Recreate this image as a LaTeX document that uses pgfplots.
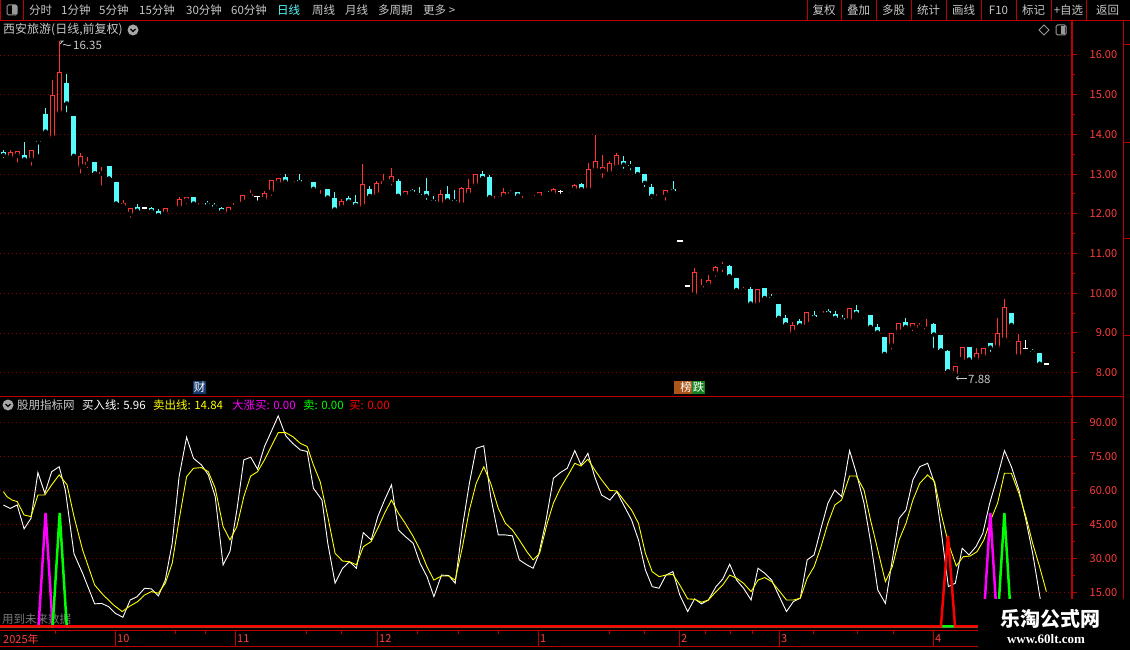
\documentclass[border=0pt]{standalone}
\usepackage{fontspec}
\setmainfont{Noto Sans CJK SC}
\newfontfamily\wmserif{Liberation Serif}
\usepackage{pgfplots}
\usepackage{pgfplotstable}
\pgfplotsset{compat=1.18}

\definecolor{upred}{RGB}{255,50,50}
\definecolor{dncyan}{RGB}{84,252,252}
\definecolor{axred}{RGB}{190,0,0}
\definecolor{gridred}{RGB}{150,0,0}
\definecolor{lblred}{RGB}{255,60,60}
\definecolor{txtgray}{RGB}{200,200,200}
\definecolor{dimgray}{RGB}{120,120,120}
\definecolor{lnyellow}{RGB}{255,255,0}
\definecolor{lnmagenta}{RGB}{255,0,255}
\definecolor{lngreen}{RGB}{0,255,0}
\definecolor{lnred}{RGB}{255,0,0}
\definecolor{caiblue}{RGB}{25,60,110}
\definecolor{bangbrown}{RGB}{170,85,25}
\definecolor{diegreen}{RGB}{20,130,30}

% daily candles, i = bar number
\pgfplotstableread{
i o h l c
1 13.41 13.60 13.38 13.55
2 13.46 13.57 13.24 13.57
4 13.36 13.60 13.16 13.60
7 13.92 15.38 13.86 14.99
8 14.53 16.35 14.47 15.58
11 13.19 13.54 12.96 13.46
12 13.24 13.44 13.10 13.31
14 13.00 13.18 12.66 13.06
17 12.19 12.34 12.19 12.27
18 11.99 12.14 11.85 12.14
23 12.00 12.14 12.00 12.14
24 12.14 12.18 12.07 12.18
25 12.15 12.42 12.13 12.38
26 12.33 12.43 12.20 12.43
28 12.21 12.30 12.11 12.28
32 12.03 12.18 12.03 12.18
33 12.21 12.27 12.18 12.27
34 12.29 12.47 12.26 12.47
35 12.45 12.60 12.43 12.50
37 12.36 12.58 12.36 12.52
38 12.54 12.85 12.40 12.85
39 12.77 12.91 12.69 12.91
41 12.77 12.83 12.66 12.83
43 12.79 12.82 12.72 12.82
45 12.66 12.76 12.45 12.70
48 12.16 12.37 12.16 12.32
51 12.18 13.25 12.16 12.75
53 12.47 12.82 12.47 12.78
54 12.76 13.00 12.68 12.82
55 12.81 13.16 12.66 12.95
57 12.47 12.57 12.39 12.57
62 12.25 12.61 12.19 12.49
65 12.23 12.68 12.23 12.64
66 12.48 12.87 12.48 12.66
67 12.71 12.99 12.63 12.99
70 12.38 12.46 12.30 12.46
71 12.43 12.66 12.34 12.55
72 12.50 12.60 12.40 12.56
74 12.40 12.46 12.32 12.46
75 12.45 12.49 12.34 12.48
76 12.45 12.56 12.34 12.56
78 12.50 12.64 12.50 12.62
80 12.51 12.56 12.51 12.56
81 12.60 12.76 12.55 12.72
83 12.61 13.27 12.57 13.12
84 13.10 13.98 12.99 13.34
85 13.08 13.48 12.85 13.17
86 13.02 13.32 12.96 13.28
87 13.18 13.54 13.11 13.48
93 12.46 12.51 12.39 12.51
94 12.47 12.61 12.28 12.61
98 9.96 10.63 9.96 10.53
99 10.12 10.37 10.00 10.18
100 10.21 10.45 10.16 10.33
101 10.50 10.68 10.36 10.66
102 10.65 10.78 10.48 10.69
105 10.05 10.16 10.05 10.11
107 9.71 10.10 9.71 10.10
112 9.01 9.27 9.01 9.19
114 9.21 9.53 9.21 9.53
116 9.49 9.54 9.41 9.54
120 9.31 9.62 9.31 9.62
122 9.44 9.47 9.31 9.47
126 8.68 8.99 8.53 8.99
127 9.03 9.24 8.91 9.24
129 9.13 9.24 8.99 9.24
130 9.13 9.24 9.03 9.19
131 9.08 9.35 9.08 9.13
135 7.97 8.16 7.88 8.16
136 8.33 8.64 8.26 8.64
138 8.33 8.62 8.33 8.49
139 8.41 8.62 8.35 8.62
141 8.63 9.37 8.56 9.00
142 8.83 9.85 8.72 9.65
144 8.41 8.97 8.41 8.80
}\upK

\pgfplotstableread{
i o h l c
0 13.56 13.60 13.35 13.48
3 13.47 13.80 13.35 13.37
5 13.83 13.85 13.44 13.80
6 14.52 14.66 13.99 14.07
9 15.30 15.53 14.50 14.78
10 14.47 14.47 13.37 13.46
13 13.31 13.31 13.00 13.02
15 13.21 13.21 12.87 12.89
16 12.81 12.81 12.21 12.26
19 12.17 12.24 12.03 12.08
21 12.15 12.18 12.03 12.07
22 12.06 12.12 11.96 11.97
27 12.43 12.43 12.22 12.26
29 12.28 12.31 12.20 12.23
30 12.23 12.26 12.07 12.18
31 12.15 12.17 12.07 12.07
40 12.92 13.00 12.76 12.81
42 12.85 12.99 12.79 12.80
44 12.81 12.81 12.56 12.63
46 12.62 12.62 12.39 12.41
47 12.39 12.54 12.02 12.11
49 12.40 12.45 12.28 12.31
50 12.30 12.48 12.16 12.22
52 12.62 12.70 12.34 12.45
56 12.82 12.87 12.45 12.45
58 12.60 12.62 12.45 12.55
59 12.50 12.68 12.40 12.47
60 12.57 12.89 12.30 12.45
61 12.34 12.45 12.29 12.31
63 12.50 12.70 12.31 12.34
64 12.34 12.60 12.22 12.31
68 13.00 13.08 12.80 12.90
69 12.92 12.97 12.39 12.42
73 12.56 12.56 12.42 12.46
77 12.58 12.58 12.45 12.55
82 12.75 12.78 12.60 12.62
88 13.33 13.45 13.08 13.24
89 13.23 13.32 13.05 13.20
90 13.17 13.17 12.97 13.00
91 13.00 13.00 12.62 12.78
92 12.67 12.75 12.33 12.45
95 12.62 12.82 12.55 12.57
103 10.69 10.71 10.41 10.43
104 10.38 10.38 10.06 10.08
106 10.11 10.16 9.66 9.74
108 10.13 10.13 9.85 9.88
109 9.91 9.98 9.81 9.88
110 9.73 9.73 9.31 9.38
111 9.38 9.45 9.21 9.21
113 9.30 9.35 9.15 9.19
115 9.44 9.54 9.33 9.39
117 9.55 9.59 9.45 9.49
118 9.48 9.54 9.34 9.38
119 9.38 9.45 9.33 9.33
121 9.58 9.70 9.45 9.49
123 9.44 9.44 9.12 9.15
124 9.14 9.22 9.01 9.01
125 8.89 8.89 8.41 8.47
128 9.27 9.37 9.06 9.15
132 9.22 9.26 8.57 8.96
133 8.94 8.94 8.51 8.56
134 8.54 8.56 8.03 8.03
137 8.64 8.64 8.26 8.33
140 8.75 8.75 8.47 8.63
143 9.50 9.50 9.10 9.20
146 8.55 8.60 8.45 8.52
147 8.50 8.50 8.22 8.22
}\dnK

\pgfplotstableread{
i o h l c
20 12.14 12.14 12.06 12.14
36 12.44 12.45 12.28 12.44
79 12.56 12.60 12.45 12.56
96 11.31 11.31 11.31 11.31
97 10.18 10.18 10.18 10.18
145 8.61 8.82 8.56 8.61
148 8.21 8.21 8.21 8.21
}\flatK

% indicator lines, px = horizontal pixel of the point
\pgfplotstableread{
px v
3.4 53.5
10.3 52
17.2 53.5
24.1 43
31.0 47.6
37.9 67.8
44.8 58.7
51.7 68.2
59.2 70.4
65.4 60
74.0 32
82.6 23.4
94.7 9.9
101.6 10.1
108.5 8.7
115.4 5.7
122.9 4
130.2 11.6
137.1 13.1
144.6 16.8
151.5 16.5
158.4 13.4
165.3 20.4
172.2 36.6
179.1 66
186.6 83.4
193.5 74.1
201.4 71.2
208.3 66.8
215.2 57.2
223.1 27.1
230.0 33
236.9 51.3
243.8 73.4
250.7 74.6
257.6 69.3
264.5 79.3
272.0 86.6
278.2 92.8
285.8 84
292.7 80.7
300.3 77.8
307.2 77.1
313.4 60.9
322.0 55.7
327.8 36.6
335.1 19
342.6 25.6
349.5 28.5
356.4 25.6
363.3 41.3
371.2 38.1
377.8 48.4
384.6 55.7
391.5 62.4
398.4 42.5
405.3 39.6
413.2 36.6
420.1 27.8
427.0 21.9
433.9 13.1
441.5 22.6
448.7 22.4
455.2 19
462.5 44
469.4 63.1
476.2 78.5
483.8 79.6
490.7 57.2
498.3 40.3
505.5 40.3
512.4 39.9
519.3 29.3
526.9 27.1
533.1 25.6
538.6 31.5
545.5 45.4
553.4 65.3
560.3 67.8
567.2 69.7
574.8 77.5
581.0 71.2
587.9 76.3
594.7 66
601.6 57.9
609.9 55.7
616.8 59.4
623.7 53.5
631.6 46.9
638.5 38.1
645.4 24.9
652.2 17.5
659.1 16.8
666.0 22.6
672.9 24.1
679.8 13.8
687.7 6.5
694.6 12.1
701.5 9.9
708.4 11.6
716.0 17.5
722.8 20.9
729.7 27.4
736.6 20.4
743.5 16.8
751.1 11.6
758.0 25.6
764.8 23.4
771.7 20.4
778.6 13.8
786.5 6.5
793.4 10.9
800.3 12.4
807.2 29.3
814.1 31.5
821.0 43.2
827.9 54.3
834.8 60.1
841.6 57.2
849.6 77.5
856.4 67.5
864.0 54.3
870.9 36.6
877.8 16
885.4 10.1
892.3 29.3
899.1 47.6
906.0 51.3
912.9 64.6
919.8 70.4
927.7 71.9
934.6 63.1
941.5 41
948.4 17.5
955.3 19
962.2 34.4
969.0 31.5
975.9 35.1
982.8 41
989.7 54.3
996.6 64.6
1004.5 77.5
1011.4 70.4
1019.0 60.1
1025.9 46.9
1032.7 32.2
1040.3 11.9
}\buyL

\pgfplotstableread{
px v
3.4 59.4
6.9 57.2
12.1 55.7
17.2 55
24.1 49.1
31.0 48.4
37.9 57.9
44.8 57.9
51.7 62.4
59.2 66.8
67.1 62.4
74.0 48.4
82.6 33.7
94.7 18.2
103.3 13.8
113.6 9.4
122.2 6.5
129.1 8.7
137.7 10.9
144.6 13.8
151.5 15.3
158.4 14.6
165.3 19
172.2 27.8
179.1 46.9
186.6 66
193.5 69.7
201.4 70
208.3 68.2
215.2 60.9
223.1 44
230.0 38.1
236.9 44
243.8 57.2
250.7 66.3
257.6 68.2
264.5 73.4
272.0 80
278.2 85.4
285.8 85.4
292.7 83.7
300.3 80.7
307.2 79.3
313.4 71.2
320.2 63.8
327.8 48.4
335.1 32.2
342.6 28.8
349.5 28.5
356.4 27.1
363.3 35.1
371.2 37.4
377.8 43.2
384.6 49.9
391.5 55.7
398.4 49.9
405.3 45.4
413.2 39.6
420.1 33.7
427.0 26.3
433.9 20.4
441.5 22.2
448.7 22.2
455.2 20.4
462.5 35.1
469.4 51.3
476.2 63.1
483.8 70.4
490.7 63.1
498.3 52
505.5 45.4
512.4 42.5
519.3 38.1
526.9 32.9
533.1 29.3
539.6 32.2
547.2 45.4
553.4 54.3
560.3 60.9
567.2 66
574.8 71.9
581.0 70.7
587.9 73.7
594.7 69
601.6 64.6
609.9 59.9
616.8 59.7
623.7 55.7
631.6 51.3
638.5 45.4
645.4 32.2
652.2 24.1
659.1 21.9
666.0 22.6
672.9 22.9
679.8 18.2
687.7 12.1
694.6 11.9
701.5 10.6
708.4 11.6
716.0 15.3
722.8 18.2
729.7 22.6
736.6 21.2
743.5 19
751.1 15.3
758.0 20.4
764.8 21.5
771.7 19.7
778.6 16
786.5 11.6
793.4 11.6
800.3 12.4
807.2 21.2
814.1 26.3
821.0 35.1
827.9 45.4
834.8 53.5
841.6 55.7
849.6 66.3
856.4 66.3
864.0 60.1
870.9 46.2
877.8 33.7
885.4 19.7
892.3 26.3
899.1 38.1
906.0 45.4
912.9 55.7
919.8 63.1
927.7 66.8
934.6 63.8
941.5 49.1
948.4 36.6
956.3 26.6
963.2 30.7
970.1 31
977.0 32.9
983.9 38.1
990.7 46.9
997.6 54.3
1004.5 67.5
1011.4 67.5
1019.0 58.6
1025.9 48.4
1032.7 36.6
1039.6 26.3
1046.5 15.3
}\sellL

\pgfplotstableread{
i v
-0.47 0
5 0
6 50
7 0
139 0
140 50
141 0
148 0
}\bigbuyS

\pgfplotstableread{
i v
-0.47 0
7 0
8 50
9 0
141 0
142 50
143 0
148 0
}\sellS

\pgfplotstableread{
i v
-0.47 0
133 0
134 40
135 0
148 0
}\buyS

\pgfplotsset{
  panel/.style={
    scale only axis, width=1072pt, xmin=-0.468, xmax=151.59,
    axis x line=none, axis y line*=right,
    axis line style={draw=axred, line width=1pt},
    ymajorgrids, grid style={draw=gridred, line width=0.8pt, dash pattern=on 1pt off 3pt},
    tick align=outside, major tick length=5pt, minor tick length=3pt,
    every tick/.style={draw=axred, line width=1pt},
    yticklabel style={font=\fontsize{11}{12}\selectfont, text=lblred,
      anchor=west, text width=40pt, align=right, inner sep=0pt},
    clip=true,
    /pgf/number format/.cd, fixed, fixed zerofill, precision=2, assume math mode=true},
  candle/.style 2 args={only marks, mark=none,
    error bars/.cd, y dir=plus, y explicit, error mark=none,
    error bar style={draw=#1, line width=#2, solid}},
}

\begin{document}
\begin{tikzpicture}[x=1pt, y=-1pt]
\useasboundingbox (0,0) rectangle (1130,650);
\fill[black] (0,0) rectangle (1130,650);

\node[anchor=west, inner sep=0pt, text=dimgray, font=\fontsize{11.5}{12}\selectfont] at (2,619) {用到未来数据};

% price panel
\begin{axis}[panel, at={(0pt,-395pt)}, anchor=south west, height=374pt,
  ymin=7.436, ymax=16.856, ytick={8,...,16}, minor ytick={8.5,9.5,...,15.5}]
  \addplot[candle={upred}{1pt}] table[x=i, y=l, y error expr=\thisrow{h}-\thisrow{l}] {\upK};
  \addplot[candle={upred}{5pt}] table[x=i, y=o, y error expr=\thisrow{c}-\thisrow{o}] {\upK};
  \addplot[candle={black}{3pt}] table[x=i, y expr=\thisrow{o}+0.025,
    y error expr={max(\thisrow{c}-\thisrow{o}-0.05,0)}] {\upK};
  \addplot[candle={dncyan}{1pt}] table[x=i, y=l, y error expr=\thisrow{h}-\thisrow{l}] {\dnK};
  \addplot[candle={dncyan}{5pt}] table[x=i, y=c, y error expr=\thisrow{o}-\thisrow{c}] {\dnK};
  \addplot[candle={white}{1pt}] table[x=i, y=l, y error expr=\thisrow{h}-\thisrow{l}] {\flatK};
  \addplot[only marks, mark=-, mark size=2.6pt, mark options={draw=white, line width=1.6pt}]
    table[x=i, y=c] {\flatK};
\end{axis}

% indicator panel
\begin{axis}[panel, at={(0pt,-630pt)}, anchor=south west, height=232pt,
  ymin=-1.63, ymax=100.7, ytick={15,30,...,90}, minor ytick={22.5,37.5,...,82.5}]
  \addplot[draw=white, line width=0.9pt] table[x expr=(\thisrow{px}-3.3)/7.05, y=v] {\buyL};
  \addplot[draw=lnyellow, line width=0.9pt] table[x expr=(\thisrow{px}-3.3)/7.05, y=v] {\sellL};
  \addplot[draw=lnmagenta, line width=2.5pt] table[x=i, y=v] {\bigbuyS};
  \addplot[draw=lngreen, line width=2.5pt] table[x=i, y=v] {\sellS};
  \addplot[draw=lnred, line width=2.5pt] table[x=i, y=v] {\buyS};
\end{axis}

\begin{scope}[every node/.style={inner sep=0pt, font=\fontsize{11.5}{12}\selectfont}]
% toolbar
\draw[axred, line width=1pt] (0,20.5) -- (1130,20.5);
\draw[axred, line width=1pt] (0.5,0) rectangle (23,20.5);
\draw[gray!80, line width=1pt, rounded corners=1.5pt] (7,5) rectangle (17,15);
\fill[gray!80] (12,5.5) rectangle (16.5,14.5);
\foreach \t/\x in {分时/29, 1分钟/61, 5分钟/99, 15分钟/139, 30分钟/186, 60分钟/231, 周线/312, 月线/345, 多周期/378, 更多 >/423}
  \node[anchor=west, text=txtgray] at (\x,10) {\t};
\node[anchor=west, text=dncyan] at (277,10) {日线};
\foreach \x in {807,841,876,911,946,981,1016,1051,1086}
  \draw[axred, line width=1pt] (\x,0) -- (\x,20.5);
\foreach \t/\x in {复权/824, 叠加/858.5, 多股/893.5, 统计/928.5, 画线/963.5, F10/998.5, 标记/1033.5, +自选/1068.5, 返回/1107.5}
  \node[text=txtgray] at (\x,10) {\t};

% panel title
\node[anchor=west, text=txtgray, font=\fontsize{12}{13}\selectfont] at (3,30) {西安旅游(日线,前复权)};
\fill[gray!70] (133,30) circle (5.5);
\draw[black, line width=1.2pt] (130.5,29) -- (133,31.5) -- (135.5,29);
\draw[gray!80, line width=0.9pt] (1044,25) -- (1049,30) -- (1044,35) -- (1039,30) -- cycle;
\draw[gray!80, line width=1pt, rounded corners=1.5pt] (1056,25) rectangle (1066,35);
\fill[gray!80] (1061,26) rectangle (1065,34);

% high / low notes
\draw[txtgray, line width=0.8pt] (60,41) -- (63,41) -- (60,44);
\draw[txtgray, line width=0.8pt] (63,45) .. controls (65,43) and (67,47) .. (71,45);
\node[anchor=west, text=txtgray] at (73,45) {16.35};
\draw[txtgray, line width=0.8pt, <-] (956,378) -- (967,378);
\node[anchor=west, text=txtgray] at (968,379) {7.88};

% event tags
\fill[caiblue] (193,381) rectangle (206,394);
\node[text=white] at (199.5,387.5) {财};
\fill[bangbrown] (674,381) rectangle (692,394);
\node[text=white] at (686,387.5) {榜};
\fill[diegreen] (692,381) rectangle (705,394);
\node[text=white] at (698.5,387.5) {跌};

% separators
\draw[axred, line width=1.5pt] (0,396.5) -- (1123,396.5);
\draw[axred, line width=1pt] (1072,20.5) -- (1072,650);
\draw[axred, line width=1pt] (1123,20.5) -- (1123,650);
\foreach \y in {45,143,238,335}
  \draw[axred, line width=1pt] (1123,\y) -- (1130,\y);

% indicator header
\fill[gray!70] (8,405) circle (5.5);
\draw[black, line width=1.2pt] (5.5,404) -- (8,406.5) -- (10.5,404);
\node[anchor=west, text=txtgray] at (17,405) {股朋指标网};
\node[anchor=west, text=white] at (82,405) {买入线: 5.96};
\node[anchor=west, text=lnyellow] at (153,405) {卖出线: 14.84};
\node[anchor=west, text=lnmagenta] at (232,405) {大涨买: 0.00};
\node[anchor=west, text=lngreen] at (303,405) {卖: 0.00};
\node[anchor=west, text=lnred] at (349,405) {买: 0.00};

% date strip
\draw[axred, line width=1pt] (0,630.5) -- (1072,630.5);
\draw[axred, line width=1pt] (0,646.5) -- (1072,646.5);
\foreach \x in {115,235,377,538,679,779,933}
  \draw[axred, line width=1pt] (\x,630.5) -- (\x,646.5);
\foreach \x in {55,175,205,306,341,417,458,498,609,644,705,730,752,813,857,893}
  \draw[axred, line width=1pt] (\x,630.5) -- (\x,634);
\foreach \t/\x in {2025年/3, 10/117, 11/237, 12/379, 1/540, 2/681, 3/781, 4/935}
  \node[anchor=west, text=lblred, font=\fontsize{11}{12}\selectfont] at (\x,639) {\t};

% watermark
\fill[black] (978,599) rectangle (1130,650);
\node[text=white, font=\fontsize{20}{22}\bfseries] at (1050,619) {乐淘公式网};
\node[text=white, font=\wmserif\fontsize{13}{14}\bfseries] at (1046,639) {www.60lt.com};
\end{scope}
\end{tikzpicture}
\end{document}
